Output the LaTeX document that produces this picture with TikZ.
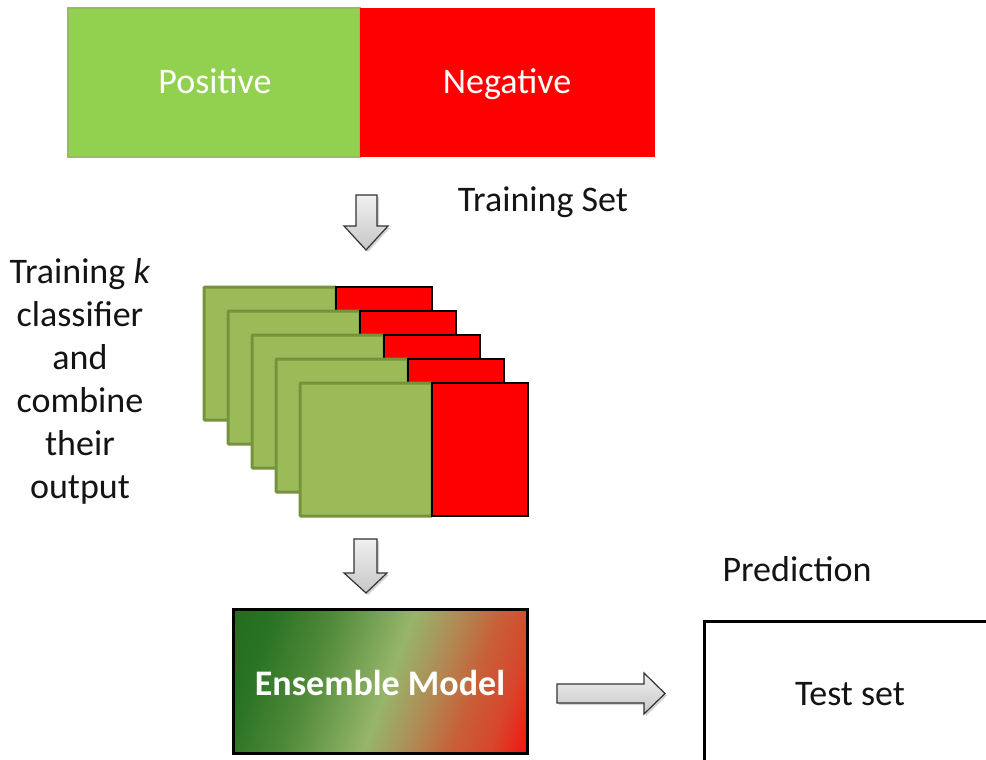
\documentclass[tikz,border=0pt]{standalone}
\usepackage{fontspec}
\setmainfont{Carlito}
\usetikzlibrary{shadows}
\definecolor{posgreen}{RGB}{146,208,80}
\definecolor{posborder}{RGB}{155,187,89}
\definecolor{cardgreen}{RGB}{155,187,89}
\definecolor{cardborder}{RGB}{118,146,60}
\definecolor{negred}{RGB}{255,0,0}
\definecolor{gsA}{RGB}{215,70,45}
\definecolor{gsB}{RGB}{200,95,55}
\definecolor{gsC}{RGB}{175,140,85}
\definecolor{gsD}{RGB}{150,182,105}
\definecolor{gsE}{RGB}{80,138,58}
\definecolor{gsF}{RGB}{42,116,36}
\definecolor{gsG}{RGB}{28,108,28}
\definecolor{txt}{RGB}{20,20,20}
\pgfdeclareverticalshading{ensshade}{100bp}{color(0bp)=(negred); color(15bp)=(negred); color(25bp)=(gsA); color(32bp)=(gsB); color(40bp)=(gsC); color(48.4bp)=(gsD); color(63bp)=(gsE); color(74bp)=(gsF); color(84bp)=(gsG); color(100bp)=(gsG)}
\tikzset{
  lbl/.style={font=\fontsize{36}{43}\selectfont, text=txt, inner sep=0pt, anchor=base},
  wlbl/.style={font=\fontsize{36}{43}\selectfont, text=white, inner sep=0pt, anchor=base},
  blockarrow/.style={draw=black!80, line width=1.2pt, top color=white!94!black, bottom color=white!78!black, drop shadow={opacity=0.35, shadow xshift=2pt, shadow yshift=-2pt}},
  greencard/.style={fill=cardgreen, draw=cardborder, line width=3pt, rounded corners=1pt},
  redcard/.style={fill=negred, draw=black, line width=1.5pt},
}
\begin{document}
\begin{tikzpicture}[x=1pt,y=-1pt]
\useasboundingbox (0,0) rectangle (986,760);
% top bar
\fill[posgreen] (68,8) rectangle (360,157);
\draw[posborder, line width=2pt] (68,8) rectangle (360,157);
\fill[negred] (360,8) rectangle (655,157);
\node[wlbl] (pos) at (215,94) {Positive};
\node[wlbl] (neg) at (507,94) {Negative};
\node[lbl] (train) at (543,211) {Training Set};
% arrow 1
\path[blockarrow] (356,195) -- (377,195) -- (377,226) -- (388,226) -- (366,250) -- (344,226) -- (356,226) -- cycle;
% left text
\node[lbl, anchor=center, align=center, font=\fontsize{36}{43}\selectfont] (ltext) at (80,381) {Training \textit{k}\\classifier\\and\\combine\\their\\output};
% cards
\foreach \i in {0,...,4}{
  \pgfmathsetmacro{\xo}{204+24*\i}
  \pgfmathsetmacro{\yo}{287+24*\i}
  \draw[greencard] (\xo,\yo) rectangle ++(132,133);
  \draw[redcard] (\xo+132,\yo) rectangle ++(96,133);
}
% arrow 2
\path[blockarrow] (354,539) -- (377,539) -- (377,573) -- (387,573) -- (366,593) -- (344,573) -- (354,573) -- cycle;
% ensemble box
\draw[line width=3pt, shading=ensshade, shading angle=70] (233,609) rectangle (527,753);
\node[wlbl, font=\fontsize{36}{43}\selectfont\bfseries] (ens) at (380,695) {Ensemble Model};
% right arrow
\path[blockarrow] (557,684) -- (644,684) -- (644,673) -- (665,693.5) -- (644,714) -- (644,703) -- (557,703) -- cycle;
\node[lbl] (pred) at (797,581) {Prediction};
\draw[line width=3pt] (704,762) -- (704,621) -- (988,621);
\node[lbl] (test) at (850,705) {Test set};
\end{tikzpicture}
\end{document}
